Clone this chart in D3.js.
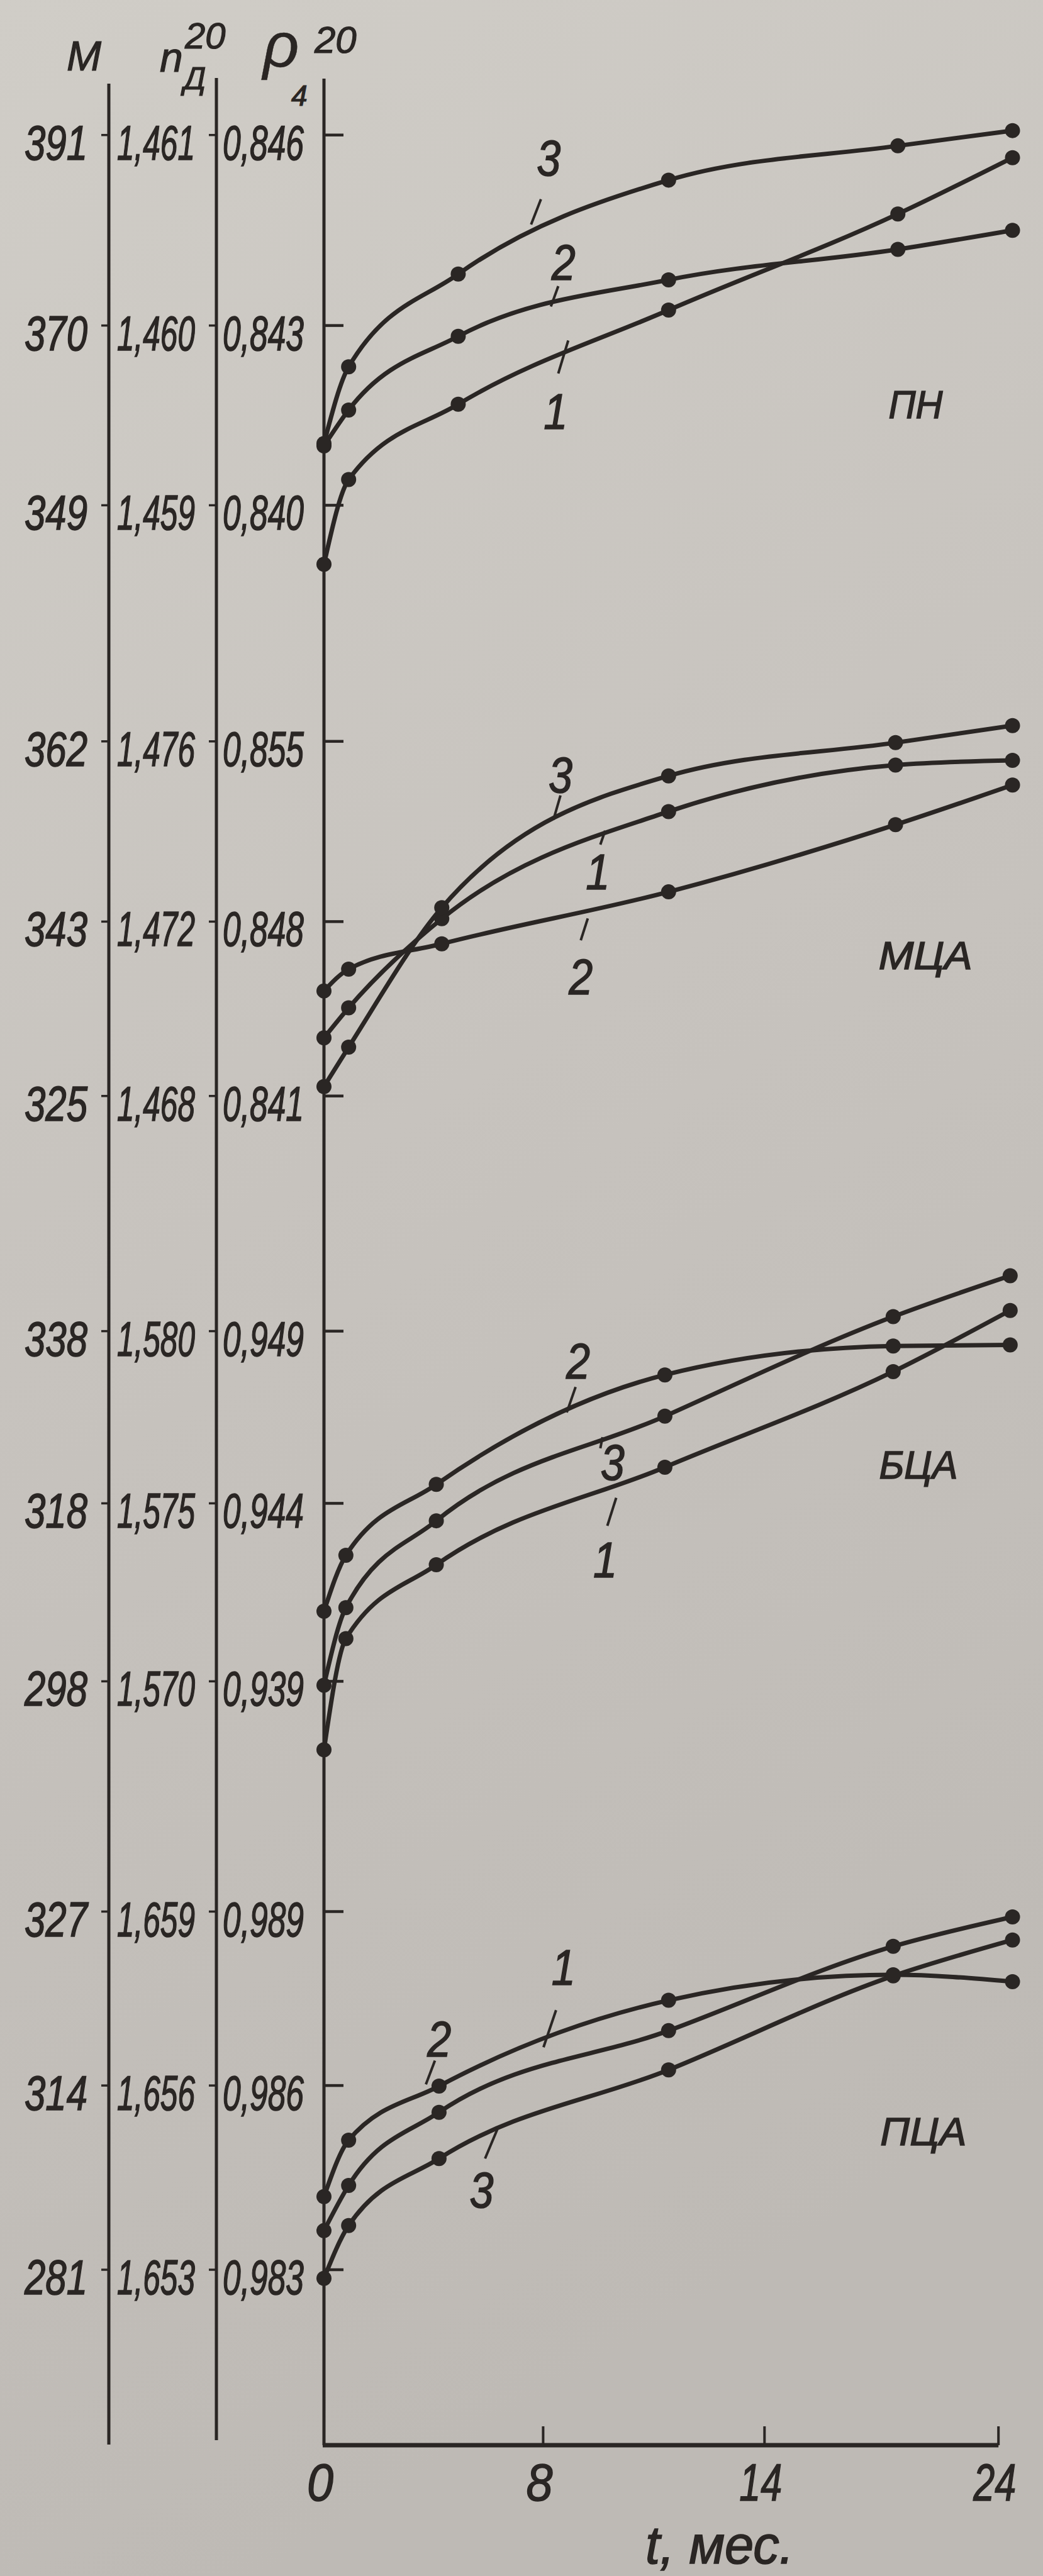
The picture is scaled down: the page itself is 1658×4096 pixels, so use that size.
<!DOCTYPE html>
<html><head><meta charset="utf-8">
<script src="https://cdn.jsdelivr.net/npm/d3@7"></script>
<style>html,body{margin:0;padding:0;background:#c8c5bf;} svg{display:block}</style>
</head><body>
<svg id="c" width="1658" height="4096"></svg>
<script>
// ================= DATA =================
const xTickValues = [0, 8, 14, 24];
const xTitle = "t, мес.";
const panelNames = ["ПН", "МЦА", "БЦА", "ПЦА"];
// axis tick labels per panel (bottom, middle, top)
const ticksM   = [[349, 370, 391], [325, 343, 362], [298, 318, 338], [281, 314, 327]];
const ticksN   = [[1.459, 1.460, 1.461], [1.468, 1.472, 1.476], [1.570, 1.575, 1.580], [1.653, 1.656, 1.659]];
const ticksRho = [[0.840, 0.843, 0.846], [0.841, 0.848, 0.855], [0.939, 0.944, 0.949], [0.983, 0.986, 0.989]];
// sampling times (months) per panel
const monthsPN  = [0, 0.9, 4.9, 11.4, 19.7, 24.6];
const monthsMCA = [0, 0.9, 4.3, 11.4, 19.6, 24.6];
const monthsBCA = [0, 0.8, 4.1, 11.3, 19.5, 24.5];
const monthsPCA = [0, 0.9, 4.2, 11.4, 19.5, 24.6];
// curve 1 = M, curve 2 = n_D^20, curve 3 = rho_4^20
const pnM    = [342.1, 352.0, 360.8, 371.7, 382.3, 388.5];
const pnN    = [1.45933, 1.45953, 1.45994, 1.46024, 1.46040, 1.46050];
const pnRho  = [0.84103, 0.84231, 0.84381, 0.84529, 0.84583, 0.84607];
const mcaM   = [331.0, 334.1, 343.3, 354.6, 359.5, 360.0];
const mcaN   = [1.47041, 1.47091, 1.47149, 1.47266, 1.47415, 1.47503];
const mcaRho = [0.84138, 0.84296, 0.84854, 0.85366, 0.85495, 0.85561];
const bcaM   = [290.3, 302.8, 311.1, 322.2, 333.3, 340.4];
const bcaN   = [1.57197, 1.57354, 1.57555, 1.57873, 1.57957, 1.57960];
const bcaRho = [0.93889, 0.94107, 0.94351, 0.94653, 0.94942, 0.95061];
const pcaM   = [288.0, 296.1, 309.2, 318.1, 324.4, 326.6];
const pcaN   = [1.65419, 1.65511, 1.65599, 1.65747, 1.65791, 1.65779];
const pcaRho = [0.98286, 0.98372, 0.98481, 0.98627, 0.98789, 0.98851];
// curve number annotations, in data units (month, rho): text, leader end A, leader end B
const notesPN  = [["3", 8.15, 0.84564, 7.92, 0.84499, 7.56, 0.84459],
                  ["2", 8.55, 0.84400, 8.41, 0.84362, 8.21, 0.84330],
                  ["1", 8.34, 0.84157, 8.68, 0.84275, 8.41, 0.84220]];
const notesMCA = [["3", 8.47, 0.85371, 8.47, 0.85290, 8.28, 0.85196],
                  ["1", 9.48, 0.84995, 9.68, 0.85153, 9.55, 0.85099],
                  ["2", 9.02, 0.84579, 9.21, 0.84812, 9.02, 0.84725]];
const notesBCA = [["2", 8.95, 0.94813, 8.88, 0.94738, 8.64, 0.94664],
                  ["3", 9.88, 0.94519, 9.61, 0.94592, 9.55, 0.94560],
                  ["1", 9.68, 0.94242, 9.98, 0.94416, 9.74, 0.94337]];
const notesPCA = [["2", 4.21, 0.98680, 4.05, 0.98643, 3.72, 0.98602],
                  ["1", 8.55, 0.98804, 8.35, 0.98730, 8.01, 0.98666],
                  ["3", 5.75, 0.98430, 6.33, 0.98529, 5.88, 0.98481]];
const namePos  = [[20.46, 0.84169], [20.88, 0.84667], [20.58, 0.94514], [20.79, 0.98526]];

// ================= LAYOUT =================
const ink = "#2a2624";
const FONT = "'Liberation Sans', Arial, sans-serif";
const axM = 173, axN = 344, axR = 515, xAxisY = 3888;
const panelY = [[803.4, 517.6, 214.7], [1742.7, 1465.4, 1178.8], [2673.4, 2390.4, 2116.6], [3609.0, 3316.1, 3039.5]];

const panels = [
  {months: monthsPN,  M: pnM,  N: pnN,  R: pnRho,  notes: notesPN},
  {months: monthsMCA, M: mcaM, N: mcaN, R: mcaRho, notes: notesMCA},
  {months: monthsBCA, M: bcaM, N: bcaN, R: bcaRho, notes: notesBCA},
  {months: monthsPCA, M: pcaM, N: pcaN, R: pcaRho, notes: notesPCA}
];

const svg = d3.select("#c");
const defs = svg.append("defs");
const grad = defs.append("linearGradient").attr("id", "bg").attr("x1", 0).attr("y1", 0).attr("x2", 0.25).attr("y2", 1);
grad.append("stop").attr("offset", 0).attr("stop-color", "#d0cdc7");
grad.append("stop").attr("offset", 0.5).attr("stop-color", "#c7c3be");
grad.append("stop").attr("offset", 1).attr("stop-color", "#bebab5");
svg.append("rect").attr("width", 1658).attr("height", 4096).attr("fill", "url(#bg)");

const x = d3.scaleLinear().domain(xTickValues).range([axR, axR + 348.4, axR + 700.3, axR + 1072.2]);

// italic text squeezed horizontally to a target width
function txt(g, str, xx, yy, fs, w, anchor, sw) {
  const t = g.append("text")
    .attr("font-family", FONT).attr("font-style", "italic").attr("font-size", fs)
    .attr("fill", ink).attr("stroke", ink).attr("stroke-width", sw == null ? 1.6 : sw)
    .text(str);
  const nat = t.node().getComputedTextLength() || w;
  const sx = w / nat;
  let x0 = xx;
  if (anchor === "end") x0 = xx - w; else if (anchor === "middle") x0 = xx - w / 2;
  t.attr("transform", `translate(${x0},${yy}) scale(${sx},1)`);
  return t;
}
const comma = d3.format(".3f");
const fmt3 = v => comma(v).replace(".", ",");

// vertical axes
const axG = svg.append("g").attr("stroke", ink).attr("stroke-width", 5).attr("fill", "none");
axG.append("line").attr("x1", axM).attr("x2", axM).attr("y1", 133).attr("y2", 3887);
axG.append("line").attr("x1", axN).attr("x2", axN).attr("y1", 124).attr("y2", 3880);
axG.append("line").attr("x1", axR).attr("x2", axR).attr("y1", 125).attr("y2", xAxisY);

// header (each symbol with its indices as one text)
const hg = svg.append("g").attr("font-family", FONT).attr("font-style", "italic")
  .attr("fill", ink).attr("stroke", ink).attr("stroke-width", 1.2);
hg.append("text").attr("x", 106).attr("y", 112).attr("font-size", 66).text("M");
const hn = hg.append("text");
hn.append("tspan").attr("x", 254).attr("y", 114).attr("font-size", 66).text("n");
hn.append("tspan").attr("x", 292).attr("y", 142).attr("font-size", 50).text("Д");
hn.append("tspan").attr("x", 294).attr("y", 77).attr("font-size", 58).text("20");
const hr = hg.append("text");
hr.append("tspan").attr("x", 418).attr("y", 106).attr("font-size", 100).attr("stroke-width", 0.5).text("ρ");
hr.append("tspan").attr("x", 463).attr("y", 168).attr("font-size", 46).text("4");
hr.append("tspan").attr("x", 500).attr("y", 84).attr("font-size", 60).text("20");

// x axis
const xg = svg.append("g");
xg.append("line").attr("x1", axR - 2).attr("x2", x(24)).attr("y1", xAxisY).attr("y2", xAxisY)
  .attr("stroke", ink).attr("stroke-width", 7);
xTickValues.filter(v => v > 0).forEach(v => {
  xg.append("line").attr("x1", x(v)).attr("x2", x(v)).attr("y1", xAxisY).attr("y2", xAxisY - 30)
    .attr("stroke", ink).attr("stroke-width", 4);
});
xTickValues.forEach(v => {
  const s = String(v);
  txt(xg, s, x(v) - 6, 3976, 84, s.length === 1 ? 42 : 68, "middle");
});
txt(xg, xTitle, 1144, 4076, 86, 236, "middle");

// panels
panels.forEach((p, i) => {
  const g = svg.append("g");
  const yr = panelY[i];
  const yM = d3.scaleLinear().domain(ticksM[i]).range(yr);
  const yN = d3.scaleLinear().domain(ticksN[i]).range(yr);
  const yR = d3.scaleLinear().domain(ticksRho[i]).range(yr);

  // ticks and labels
  for (let k = 0; k < 3; k++) {
    const yy = yR(ticksRho[i][k]);
    g.append("line").attr("x1", axM - 12).attr("x2", axM).attr("y1", yM(ticksM[i][k])).attr("y2", yM(ticksM[i][k]))
      .attr("stroke", ink).attr("stroke-width", 3.5);
    g.append("line").attr("x1", axN - 12).attr("x2", axN).attr("y1", yN(ticksN[i][k])).attr("y2", yN(ticksN[i][k]))
      .attr("stroke", ink).attr("stroke-width", 3.5);
    g.append("line").attr("x1", axR).attr("x2", axR + 31).attr("y1", yy).attr("y2", yy)
      .attr("stroke", ink).attr("stroke-width", 4.5);
    txt(g, String(ticksM[i][k]), axM - 34, yM(ticksM[i][k]) + 39, 78, 100, "end");
    txt(g, fmt3(ticksN[i][k]), axN - 34, yN(ticksN[i][k]) + 39, 78, 124, "end");
    txt(g, fmt3(ticksRho[i][k]), axR - 32, yy + 39, 78, 129, "end");
  }

  // curves
  const series = [[p.M, yM], [p.N, yN], [p.R, yR]];
  const line = d3.line().curve(d3.curveMonotoneX);
  series.forEach(([vals, ys]) => {
    const pts = p.months.map((t, j) => [x(t), ys(vals[j])]);
    g.append("path").attr("d", line(pts)).attr("fill", "none").attr("stroke", ink)
      .attr("stroke-width", 7).attr("stroke-linecap", "round");
    g.selectAll(null).data(pts).enter().append("circle")
      .attr("cx", d => d[0]).attr("cy", d => d[1]).attr("r", 12).attr("fill", ink);
  });

  // curve number notes
  p.notes.forEach(n => {
    g.append("line").attr("x1", x(n[3])).attr("y1", yR(n[4])).attr("x2", x(n[5])).attr("y2", yR(n[6]))
      .attr("stroke", ink).attr("stroke-width", 4);
    txt(g, n[0], x(n[1]), yR(n[2]) + 28, 80, 38, "middle");
  });
  // panel name
  const nw = [86, 149, 125, 137][i];
  txt(g, panelNames[i], x(namePos[i][0]), yR(namePos[i][1]) + 23, 63, nw, "middle");
});
</script>
</body></html>
